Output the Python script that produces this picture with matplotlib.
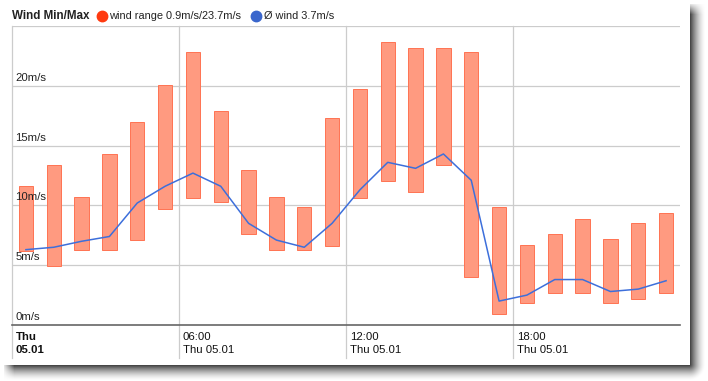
import numpy as np
import matplotlib
matplotlib.use("Agg")
import matplotlib.pyplot as plt
from matplotlib.lines import Line2D

plt.rcParams['font.family'] = ['Liberation Sans', 'DejaVu Sans']

# ---- data ----
hours = list(range(24))
wind_min = [6.2, 4.9, 6.3, 6.3, 7.1, 9.7, 10.6, 10.3, 7.6, 6.3, 6.3, 6.6,
            10.6, 12.0, 11.1, 13.4, 4.0, 0.9, 1.8, 2.7, 2.7, 1.8, 2.2, 2.7]
wind_max = [11.6, 13.4, 10.7, 14.3, 17.0, 20.1, 22.8, 17.9, 13.0, 10.7, 9.9, 17.3,
            19.7, 23.7, 23.2, 23.2, 22.8, 9.9, 6.7, 7.6, 8.9, 7.2, 8.5, 9.4]
wind_avg = [6.3, 6.5, 7.0, 7.4, 10.2, 11.6, 12.7, 11.6, 8.5, 7.1, 6.5, 8.5,
            11.3, 13.6, 13.1, 14.3, 12.1, 2.0, 2.5, 3.8, 3.8, 2.8, 3.0, 3.7]
y_ticks = [0, 5, 10, 15, 20, 25]
y_labels = ['0m/s', '5m/s', '10m/s', '15m/s', '20m/s', '']
x_ticks = [0, 6, 12, 18]
x_time = ['Thu', '06:00', '12:00', '18:00']
x_date = ['05.01', 'Thu 05.01', 'Thu 05.01', 'Thu 05.01']
title = 'Wind Min/Max'
legend_range = 'wind range 0.9m/s/23.7m/s'
legend_avg = 'Ø wind 3.7m/s'

W, H = 708, 381
fig = plt.figure(figsize=(W / 100, H / 100), dpi=100)

# background with card and drop shadow
bg = fig.add_axes([0, 0, 1, 1], zorder=-10)
img = np.ones((H, W, 3))
yy, xx = np.mgrid[0:H, 0:W]
cx1, cy1 = 689, 364
dx = np.clip(xx - cx1, 0, None)
dy = np.clip(yy - cy1, 0, None)
d = np.sqrt(dx ** 2 + dy ** 2)
inside_shadow = (xx >= 4) & (yy >= 4) & ((xx > cx1) | (yy > cy1))
shade = np.clip(d / 16.0, 0, 1)
fade_y = np.clip((yy - 2) / 12.0, 0, 1)
fade_x = np.clip((xx - 2) / 12.0, 0, 1)
strength = (1 - shade) ** 1.6 * np.minimum(fade_x, fade_y)
val = 1 - 0.8 * strength
for c in range(3):
    img[..., c] = np.where(inside_shadow, val, 1.0)
bg.imshow(img, extent=[0, W, H, 0], aspect='auto', interpolation='bilinear')
bg.set_xlim(0, W)
bg.set_ylim(H, 0)
bg.axis('off')

left, right, top, bottom = 12, 680, 26, 325
ax = fig.add_axes([left / W, 1 - bottom / H, (right - left) / W, (bottom - top) / H])
ax.set_facecolor('none')

xc = [h + 0.5 for h in hours]
heights = [mx - mn for mn, mx in zip(wind_min, wind_max)]
ax.bar(xc, heights, bottom=wind_min, width=0.52, color='#FF9A80',
       edgecolor='#FF7352', linewidth=0.7, zorder=3)
ax.plot(xc, wind_avg, color='#3D6FDB', lw=1.1, zorder=4)

ax.set_xlim(0, 24)
ax.set_ylim(0, 25)
for y in y_ticks[1:]:
    ax.axhline(y, color='#cccccc', lw=0.9, zorder=1)
for yv, lab in zip(y_ticks, y_labels):
    ax.text(0.12, yv + 0.25, lab, fontsize=8.2, color='#222222',
            ha='left', va='bottom', zorder=5)
ax.axhline(0, color='#666666', lw=1.2, zorder=5, clip_on=False)

for xt, t1, t2 in zip(x_ticks, x_time, x_date):
    ax.plot([xt, xt], [25, -2.8], color='#cccccc', lw=0.9, zorder=1, clip_on=False)
    bold = 'bold' if xt == 0 else 'normal'
    ax.text(xt + 0.13, -0.6, t1 + '\n' + t2, fontsize=8.2, fontweight=bold,
            color='#111111', ha='left', va='top', linespacing=1.3)

ax.set_xticks([])
ax.set_yticks([])
for s in ax.spines.values():
    s.set_visible(False)

# title and legend
fig.text(12 / W, 1 - 16 / H, title, fontsize=8.4, fontweight='bold',
         color='#222222', ha='left', va='center')
fig.add_artist(Line2D([102 / W], [1 - 16 / H], marker='o', markersize=7.5,
                      color='#FF3A10', linestyle='none', transform=fig.transFigure))
fig.text(109 / W, 1 - 16 / H, legend_range, fontsize=7.9, color='#222222',
         ha='left', va='center')
fig.add_artist(Line2D([256 / W], [1 - 16 / H], marker='o', markersize=7.5,
                      color='#3A66CC', linestyle='none', transform=fig.transFigure))
fig.text(264 / W, 1 - 16 / H, legend_avg, fontsize=7.9, color='#222222',
         ha='left', va='center')

fig.savefig('out.png', dpi=100)
